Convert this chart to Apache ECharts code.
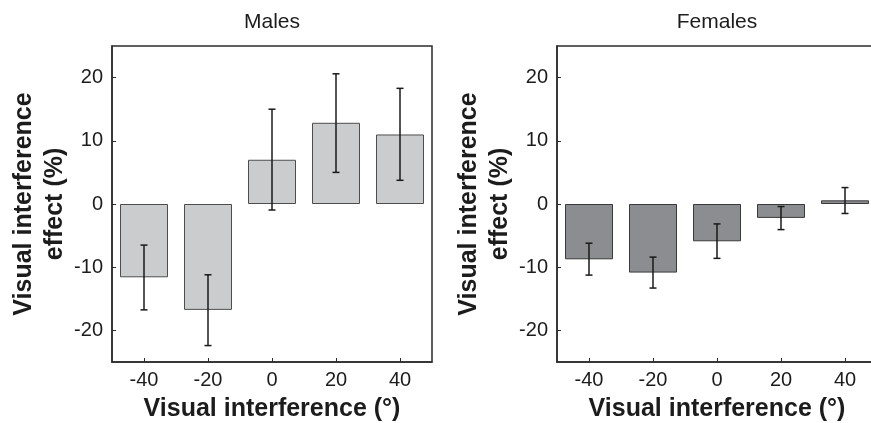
<!DOCTYPE html>
<html>
<head>
<meta charset="utf-8">
<script src="https://cdn.jsdelivr.net/npm/echarts@6/dist/echarts.min.js"></script>
<style>
html,body{margin:0;padding:0;background:#fff;}
#chart{width:871px;height:423px;}
</style>
</head>
<body>
<div id="chart"></div>
<script>
// ---- data ----
var categories = ['-40', '-20', '0', '20', '40'];
var yTicks = [-20, -10, 0, 10, 20];

var maleMeans = [-11.6, -16.75, 7.0, 12.85, 11.0];
var maleErrLow = [-16.75, -22.4, -0.95, 5.0, 3.75];
var maleErrHigh = [-6.5, -11.2, 15.0, 20.6, 18.3];

var femaleMeans = [-8.75, -10.85, -5.9, -2.2, 0.58];
var femaleErrLow = [-11.25, -13.3, -8.6, -4.05, -1.5];
var femaleErrHigh = [-6.2, -8.4, -3.15, -0.4, 2.6];

var panelTitles = ['Males', 'Females'];
var xName = 'Visual interference (°)';
var yName = 'Visual interference\neffect (%)';

// ---- helpers ----
var FONT = "'Liberation Sans', Arial, Helvetica, sans-serif";
var AXIS_COLOR = '#2b2b2b';
var TEXT_COLOR = '#1c1c1c';

function errRows(lo, hi) {
  return lo.map(function (v, i) { return [i, v, hi[i]]; });
}

function errorRender(params, api) {
  var lo = api.coord([api.value(0), api.value(1)]);
  var hi = api.coord([api.value(0), api.value(2)]);
  var half = 3.5;
  var style = { stroke: '#1a1a1a', lineWidth: 1.5 };
  return {
    type: 'group',
    children: [
      { type: 'line', shape: { x1: lo[0], y1: lo[1], x2: hi[0], y2: hi[1] }, style: style },
      { type: 'line', shape: { x1: lo[0] - half, y1: lo[1], x2: lo[0] + half, y2: lo[1] }, style: style },
      { type: 'line', shape: { x1: hi[0] - half, y1: hi[1], x2: hi[0] + half, y2: hi[1] }, style: style }
    ]
  };
}

function xAxisFor(idx) {
  return {
    type: 'category',
    gridIndex: idx,
    data: categories,
    boundaryGap: true,
    axisLine: { show: true, onZero: false, lineStyle: { color: AXIS_COLOR, width: 1.5 } },
    axisTick: { show: true, inside: true, alignWithLabel: true, length: 4, lineStyle: { color: AXIS_COLOR, width: 1 } },
    axisLabel: { margin: 8, fontSize: 20, color: TEXT_COLOR, fontFamily: FONT },
    splitLine: { show: false },
    name: xName,
    nameLocation: 'middle',
    nameGap: 35,
    nameTextStyle: { fontSize: 25, fontWeight: 'bold', color: TEXT_COLOR, fontFamily: FONT }
  };
}

function yAxisFor(idx) {
  return {
    type: 'value',
    gridIndex: idx,
    min: -25,
    max: 25,
    axisLine: { show: true, onZero: false, lineStyle: { color: AXIS_COLOR, width: 1.5 } },
    axisTick: { show: true, inside: true, length: 4, customValues: yTicks, lineStyle: { color: AXIS_COLOR, width: 1 } },
    axisLabel: { margin: 9, fontSize: 20, color: TEXT_COLOR, fontFamily: FONT, customValues: yTicks },
    splitLine: { show: false },
    name: yName,
    nameLocation: 'middle',
    nameRotate: 90,
    nameGap: 36,
    nameTextStyle: { fontSize: 25, fontWeight: 'bold', lineHeight: 31, color: TEXT_COLOR, fontFamily: FONT, align: 'center' }
  };
}

var chart = echarts.init(document.getElementById('chart'), null, { renderer: 'canvas' });

var option = {
  animation: false,
  backgroundColor: '#ffffff',
  title: [
    { text: panelTitles[0], left: 272, top: 12, padding: 0, textAlign: 'center',
      textStyle: { fontSize: 21, fontWeight: 'normal', color: TEXT_COLOR, fontFamily: FONT } },
    { text: panelTitles[1], left: 717, top: 12, padding: 0, textAlign: 'center',
      textStyle: { fontSize: 21, fontWeight: 'normal', color: TEXT_COLOR, fontFamily: FONT } }
  ],
  grid: [
    { left: 112, top: 46, width: 320, height: 316, outerBoundsMode: 'none', containLabel: false, show: true, borderColor: AXIS_COLOR, borderWidth: 1.5, backgroundColor: 'transparent' },
    { left: 557, top: 46, width: 320, height: 316, outerBoundsMode: 'none', containLabel: false, show: true, borderColor: AXIS_COLOR, borderWidth: 1.5, backgroundColor: 'transparent' }
  ],
  xAxis: [xAxisFor(0), xAxisFor(1)],
  yAxis: [yAxisFor(0), yAxisFor(1)],
  series: [
    {
      type: 'bar', xAxisIndex: 0, yAxisIndex: 0, barWidth: '75%',
      data: maleMeans,
      itemStyle: { color: '#cbcccd', borderColor: '#4d4d4d', borderWidth: 1 },
      z: 2
    },
    {
      type: 'custom', xAxisIndex: 0, yAxisIndex: 0,
      data: errRows(maleErrLow, maleErrHigh),
      encode: { x: 0, y: [1, 2] },
      renderItem: errorRender,
      z: 5
    },
    {
      type: 'bar', xAxisIndex: 1, yAxisIndex: 1, barWidth: '75%',
      data: femaleMeans,
      itemStyle: { color: '#8c8d90', borderColor: '#3a3a3a', borderWidth: 1 },
      z: 2
    },
    {
      type: 'custom', xAxisIndex: 1, yAxisIndex: 1,
      data: errRows(femaleErrLow, femaleErrHigh),
      encode: { x: 0, y: [1, 2] },
      renderItem: errorRender,
      z: 5
    }
  ]
};

chart.setOption(option);
</script>
</body>
</html>
